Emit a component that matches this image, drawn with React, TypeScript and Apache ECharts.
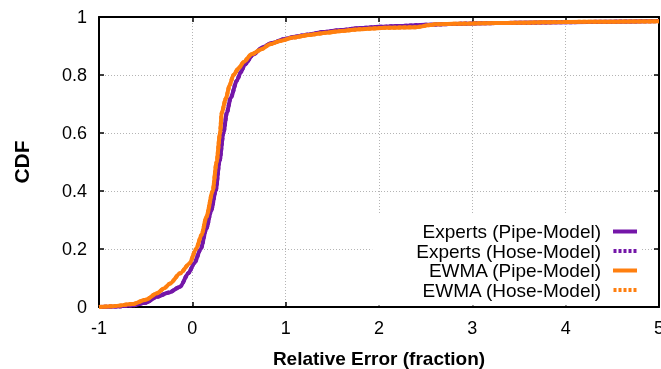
import React, { useEffect, useRef } from "react";
import * as echarts from "echarts";

const expertsX = [-1, -0.8, -0.64, -0.5, -0.38, -0.25, -0.13, -0.043, 0.02, 0.09, 0.15, 0.2, 0.25, 0.29, 0.333, 0.37, 0.41, 0.476, 0.52, 0.56, 0.65, 0.75, 0.85, 1.0, 1.1, 1.25, 1.4, 1.6, 1.8, 2.0, 2.2, 2.5, 3, 3.5, 4, 4.5, 5];
const expertsY = [0, 0.002, 0.006, 0.015, 0.035, 0.05, 0.07, 0.116, 0.15, 0.2, 0.27, 0.33, 0.4, 0.5, 0.6, 0.67, 0.72, 0.78, 0.81, 0.835, 0.87, 0.895, 0.91, 0.925, 0.932, 0.94, 0.948, 0.955, 0.962, 0.966, 0.969, 0.973, 0.978, 0.98, 0.982, 0.984, 0.986];
const ewmaX = [-1, -0.85, -0.64, -0.5, -0.38, -0.3, -0.24, -0.13, -0.03, 0.04, 0.1, 0.15, 0.218, 0.26, 0.297, 0.315, 0.36, 0.4, 0.44, 0.5, 0.55, 0.636, 0.75, 0.83, 0.95, 1.08, 1.25, 1.44, 1.6, 1.8, 2.08, 2.4, 2.55, 2.6, 3, 3.5, 4, 4.5, 5];
const ewmaY = [0, 0.003, 0.01, 0.025, 0.047, 0.065, 0.081, 0.116, 0.15, 0.2, 0.25, 0.31, 0.4, 0.5, 0.6, 0.67, 0.72, 0.765, 0.8, 0.825, 0.845, 0.872, 0.89, 0.906, 0.918, 0.929, 0.938, 0.946, 0.952, 0.958, 0.963, 0.965, 0.972, 0.975, 0.978, 0.98, 0.983, 0.984, 0.985];

const seriesNames = ["Experts (Pipe-Model)", "Experts (Hose-Model)", "EWMA (Pipe-Model)", "EWMA (Hose-Model)"];
const xTitle = "Relative Error (fraction)";
const yTitle = "CDF";

const PURPLE = "#7416a8";
const ORANGE = "#ff7f0f";
const FONT = "Liberation Sans, Arial, sans-serif";

const SOLID_ICON = "path://M0,0h24v4h-24z";
const DOTTED_ICON = "path://M0,0h3v4h-3z M5,0h3v4h-3z M10,0h3v4h-3z M15,0h3v4h-3z M20,0h3v4h-3z";

function zip(xs: number[], ys: number[]) {
  return xs.map((x, i) => [x, ys[i]]);
}

export default function App() {
  const ref = useRef<HTMLDivElement>(null);
  useEffect(() => {
    if (!ref.current) return;
    const chart = echarts.init(ref.current, undefined, { renderer: "svg" });
    const grid = { left: 99, top: 17, right: 2, bottom: 62, outerBoundsMode: "none" };
    const gridLine = { show: true, lineStyle: { color: "#b4b4b4", type: [1, 2] as any, width: 1 } };
    const mk = (name: string, xs: number[], ys: number[], color: string, dotted: boolean, z: number) => ({
      name,
      type: "line",
      data: zip(xs, ys),
      showSymbol: false,
      symbol: "none",
      smooth: 0.25,
      smoothMonotone: "x",
      z,
      lineStyle: { color, width: 4, type: dotted ? [3, 2] : "solid" },
      itemStyle: { color },
      emphasis: { disabled: true },
    });
    const axisLine = { show: true, onZero: false, lineStyle: { color: "#000", width: 2 } };
    const axisTick = { show: true, inside: true, length: 5, lineStyle: { color: "#000", width: 1.5 } };
    chart.setOption({
      animation: false,
      grid,
      xAxis: [
        {
          type: "value",
          min: -1,
          max: 5,
          interval: 1,
          position: "bottom",
          name: xTitle,
          nameLocation: "middle",
          nameGap: 42,
          nameTextStyle: { fontFamily: FONT, fontSize: 19, fontWeight: "bold", color: "#000" },
          axisLine,
          axisTick,
          axisLabel: { fontFamily: FONT, fontSize: 18, color: "#000", margin: 12 },
          splitLine: gridLine,
        },
        {
          type: "value",
          min: -1,
          max: 5,
          interval: 1,
          position: "top",
          axisLine,
          axisTick,
          axisLabel: { show: false },
          splitLine: { show: false },
        },
      ],
      yAxis: [
        {
          type: "value",
          min: 0,
          max: 1,
          interval: 0.2,
          position: "left",
          name: yTitle,
          nameLocation: "middle",
          nameGap: 67,
          nameRotate: 90,
          nameTextStyle: { fontFamily: FONT, fontSize: 21, fontWeight: "bold", color: "#000" },
          axisLine,
          axisTick,
          axisLabel: { fontFamily: FONT, fontSize: 18, color: "#000", margin: 12 },
          splitLine: gridLine,
        },
        {
          type: "value",
          min: 0,
          max: 1,
          interval: 0.2,
          position: "right",
          axisLine,
          axisTick,
          axisLabel: { show: false },
          splitLine: { show: false },
        },
      ],
      legend: {
        data: [
          { name: seriesNames[0], icon: SOLID_ICON },
          { name: seriesNames[1], icon: DOTTED_ICON },
          { name: seriesNames[2], icon: SOLID_ICON },
          { name: seriesNames[3], icon: DOTTED_ICON },
        ],
        orient: "vertical",
        right: 20,
        top: 213,
        align: "right",
        itemWidth: 24,
        itemHeight: 4,
        itemGap: 0.5,
        padding: [9, 4, 6, 44],
        backgroundColor: "#fff",
        textStyle: { fontFamily: FONT, fontSize: 19, lineHeight: 19, color: "#000", padding: [0, 7, 0, 0] },
        selectedMode: false,
        z: 10,
      },
      series: [
        mk(seriesNames[0], expertsX, expertsY, PURPLE, false, 3),
        mk(seriesNames[1], expertsX, expertsY, PURPLE, true, 2),
        mk(seriesNames[2], ewmaX, ewmaY, ORANGE, false, 5),
        mk(seriesNames[3], ewmaX, ewmaY, ORANGE, true, 4),
      ],
    });
    return () => chart.dispose();
  }, []);
  return <div ref={ref} style={{ position: "fixed", left: 0, top: 0, width: 661, height: 369 }} />;
}
